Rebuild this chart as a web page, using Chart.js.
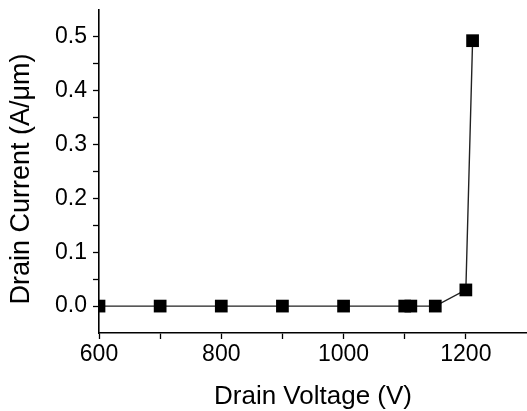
<!DOCTYPE html>
<html>
<head>
<meta charset="utf-8">
<script src="https://cdn.jsdelivr.net/npm/chart.js@4"></script>
<style>
html,body{margin:0;padding:0;background:#fff;}
#wrap{width:527px;height:411px;position:relative;}
</style>
</head>
<body>
<div id="wrap"><canvas id="c" width="527" height="411"></canvas></div>
<script>
const drainVoltage = [600, 700, 800, 900, 1000, 1100, 1110, 1150, 1200, 1211];
const drainCurrent = [0, 0, 0, 0, 0, 0, 0, 0, 0.03, 0.493];
const xTickLabels = [600, 800, 1000, 1200];
const yTickLabels = [0.0, 0.1, 0.2, 0.3, 0.4, 0.5];
const xTitle = 'Drain Voltage (V)';
const yTitle = 'Drain Current (A/\u03bcm)';

const FONT = "'Liberation Sans', Arial, sans-serif";
const points = drainVoltage.map((x, i) => ({x: x, y: drainCurrent[i]}));

const yTitlePlugin = {
  id: 'yTitle',
  afterDraw(chart) {
    const ctx = chart.ctx;
    ctx.save();
    ctx.translate(22, 179);
    ctx.rotate(-Math.PI / 2);
    ctx.fillStyle = '#000';
    ctx.font = "27px " + FONT;
    ctx.textAlign = 'center';
    ctx.textBaseline = 'middle';
    ctx.fillText(yTitle, 0, 0);
    ctx.restore();
  }
};

new Chart(document.getElementById('c'), {
  type: 'scatter',
  data: {
    datasets: [{
      data: points,
      showLine: true,
      borderColor: '#222',
      borderWidth: 1.4,
      pointStyle: 'rect',
      pointRadius: 9,
      pointHoverRadius: 9,
      pointBackgroundColor: '#000',
      pointBorderWidth: 0,
      clip: {left: 0, right: 10, top: 10, bottom: 10}
    }]
  },
  plugins: [yTitlePlugin],
  options: {
    responsive: false,
    animation: false,
    devicePixelRatio: 1,
    layout: {autoPadding: false, padding: {top: 10, right: 0, left: 0, bottom: 0}},
    plugins: {legend: {display: false}, tooltip: {enabled: false}},
    scales: {
      x: {
        type: 'linear',
        min: 600, max: 1300,
        afterFit: s => { s.height = 78; s.paddingRight = 0; s.paddingLeft = 0; },
        ticks: {
          stepSize: 100,
          autoSkip: false,
          maxRotation: 0,
          padding: 2,
          color: '#000',
          font: {family: FONT, size: 23},
          callback: v => xTickLabels.includes(v) ? String(v) : ''
        },
        grid: {display: true, drawOnChartArea: false, drawTicks: true, tickLength: 6,
          tickColor: c => (c.tick && c.tick.value >= 1300) ? 'rgba(0,0,0,0)' : '#000', tickWidth: 1.3},
        border: {display: true, color: '#000', width: 1.6},
        title: {display: true, text: xTitle, color: '#000',
          font: {family: FONT, size: 26, lineHeight: 1.1}, padding: {top: 0, bottom: 0}}
      },
      y: {
        type: 'linear',
        min: -0.05, max: 0.55,
        afterFit: s => { s.width = 99; s.paddingTop = 0; s.paddingBottom = 0; },
        afterBuildTicks: s => {
          const t = [];
          for (let i = 0; i <= 10; i++) t.push({value: Math.round(i * 5) / 100});
          s.ticks = t;
        },
        ticks: {
          autoSkip: false,
          padding: 6,
          color: '#000',
          font: {family: FONT, size: 23},
          callback: v => {
            const m = yTickLabels.find(l => Math.abs(l - v) < 1e-9);
            return m !== undefined ? m.toFixed(1) : '';
          }
        },
        grid: {display: true, drawOnChartArea: false, drawTicks: true, tickLength: 6, tickColor: '#000', tickWidth: 1.3},
        border: {display: true, color: '#000', width: 1.6},
        title: {display: false}
      }
    }
  }
});
</script>
</body>
</html>
